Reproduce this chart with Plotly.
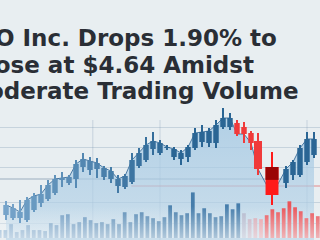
import plotly.graph_objects as go

# ---------------- data ----------------
title_lines = ["O Inc. Drops 1.90% to", "Close at $4.64 Amidst", "Moderate Trading Volume"]

day = list(range(37)) + [38, 40, 41, 42, 43, 44]
open_ = [3.70, 3.64, 3.64, 3.60, 3.80, 3.94, 4.02, 4.14, 4.40, 4.34,
         4.42, 4.66, 4.60, 4.62, 4.46, 4.42, 4.28, 4.26, 4.36, 4.68,
         4.80, 5.02, 4.94, 5.04, 4.86, 4.82, 4.86, 5.04, 5.16, 5.14,
         5.14, 5.46, 5.46, 5.54, 5.46, 5.34, 5.18, 4.66, 4.34, 4.50,
         4.50, 4.76, 4.90]
close = [3.90, 3.84, 3.76, 4.00, 4.08, 4.12, 4.30, 4.42, 4.44, 4.46,
         4.72, 4.82, 4.78, 4.74, 4.64, 4.58, 4.42, 4.48, 4.80, 4.94,
         5.10, 5.18, 5.14, 5.06, 5.02, 4.94, 5.06, 5.34, 5.36, 5.38,
         5.50, 5.64, 5.64, 5.32, 5.32, 5.14, 4.62, 4.10, 4.62, 4.76,
         5.04, 5.22, 5.22]
high = [3.98, 3.92, 4.00, 4.06, 4.14, 4.30, 4.40, 4.50, 4.56, 4.50,
        4.80, 4.94, 4.86, 4.84, 4.68, 4.66, 4.50, 4.52, 4.94, 5.04,
        5.26, 5.36, 5.20, 5.10, 5.06, 5.00, 5.10, 5.44, 5.50, 5.44,
        5.60, 5.84, 5.74, 5.60, 5.56, 5.38, 5.34, 4.96, 4.68, 4.80,
        5.10, 5.36, 5.36]
low = [3.60, 3.60, 3.54, 3.56, 3.76, 3.86, 3.98, 4.10, 4.26, 4.30,
       4.24, 4.56, 4.50, 4.44, 4.40, 4.34, 4.14, 4.22, 4.32, 4.64,
       4.76, 4.90, 4.90, 5.00, 4.80, 4.70, 4.76, 5.00, 5.06, 5.06,
       5.04, 5.42, 5.40, 5.28, 5.14, 5.00, 4.50, 3.90, 4.24, 4.40,
       4.46, 4.70, 4.84]

vol_day = list(range(57))
volume = [0.40, 0.40, 0.70, 0.30, 0.40, 0.65, 0.40, 0.40, 0.35, 0.75,
          0.65, 1.15, 1.20, 0.70, 0.80, 1.05, 0.90, 0.75, 0.80, 0.70,
          0.95, 0.70, 1.30, 0.80, 1.20, 1.30, 1.10, 1.00, 0.85, 1.05,
          1.65, 1.30, 1.15, 1.25, 2.30, 1.25, 1.50, 1.25, 1.05, 1.10,
          1.70, 1.45, 1.75, 1.25, 0.95, 1.00, 0.95, 1.15, 1.45, 1.30,
          1.50, 1.85, 1.55, 1.35, 1.00, 1.25, 1.10]

grid_prices = [5.46, 5.06, 4.66, 3.96, 3.54]
support_price = 4.42
ref_price = 4.28
vline_days = [12.4, 22, 43]

# ---------------- styles ----------------
BG = "#e8eef1"
PRICE_RANGE = [3.2, 8.0]
DAY_RANGE = [-0.857, 44.857]
VDAY_RANGE = [0.053, 56.39]
VOL_RANGE = [-0.1, 12.0]
special_width = {36: 1.15, 38: 1.85}


def lerp_hex(c1, c2, t):
    t = max(0.0, min(1.0, t))
    a = [int(c1[i:i + 2], 16) for i in (1, 3, 5)]
    b = [int(c2[i:i + 2], 16) for i in (1, 3, 5)]
    return "#" + "".join(f"{round(a[k] + (b[k] - a[k]) * t):02x}" for k in range(3))


colors, widths, bases, heights = [], [], [], []
for d, o, c in zip(day, open_, close):
    if c >= o:
        colors.append(lerp_hex("#76a4ca", "#2a6594", d / 24))
    else:
        colors.append("#ff1a1a" if d == 38 else "#f03a3a")
    widths.append(special_width.get(d, 0.78))
    bases.append(min(o, c))
    heights.append(max(abs(c - o), 0.02))

wick_h = [h - l for h, l in zip(high, low)]

vcolors = []
for j in vol_day:
    if j <= 42:
        vcolors.append(lerp_hex("#86acce", "#467dab", j / 34))
    elif j <= 46:
        vcolors.append(lerp_hex("#b3b7cc", "#e99aa2", (j - 43) / 3))
    else:
        vcolors.append("#ea5459")

fig = go.Figure()

# area under closing line
fig.add_trace(go.Scatter(
    x=day, y=close, mode="lines", xaxis="x", yaxis="y",
    line=dict(color="rgba(40,95,145,0.8)", width=1),
    fill="tozeroy",
    fillgradient=dict(type="vertical",
                      colorscale=[[0, "rgba(215,230,240,0.45)"], [1, "rgba(160,198,226,0.75)"]]),
    hoverinfo="skip", showlegend=False))

# volume bars
fig.add_trace(go.Bar(
    x=vol_day, y=volume, xaxis="x2", yaxis="y2", width=0.66,
    marker=dict(color=vcolors, line=dict(width=0)), showlegend=False))
# fade of the volume bars towards the bottom
vmax = max(volume)
fig.add_trace(go.Scatter(
    x=VDAY_RANGE, y=[vmax, vmax], xaxis="x2", yaxis="y2", mode="lines",
    line=dict(width=0), fill="tozeroy",
    fillgradient=dict(type="vertical",
                      colorscale=[[0, "rgba(242,246,248,0.6)"], [0.7, "rgba(242,246,248,0)"],
                                  [1, "rgba(242,246,248,0)"]]),
    hoverinfo="skip", showlegend=False))

# candle wicks
fig.add_trace(go.Bar(
    x=day, y=wick_h, base=low, width=0.15, xaxis="x3", yaxis="y3",
    marker=dict(color=colors, line=dict(width=0)), showlegend=False))
# candle bodies
fig.add_trace(go.Bar(
    x=day, y=heights, base=bases, width=widths, xaxis="x3", yaxis="y3",
    marker=dict(color=colors, line=dict(width=0)), showlegend=False))
# dark upper half of the big drop candle
big = day.index(38)
fig.add_trace(go.Bar(
    x=[day[big]], y=[(open_[big] - close[big]) * 0.46],
    base=[open_[big] - (open_[big] - close[big]) * 0.46],
    width=[special_width[38]], xaxis="x3", yaxis="y3",
    marker=dict(color="#9a0505", line=dict(width=0)), showlegend=False))

axis_off = dict(showticklabels=False, zeroline=False, showline=False, ticks="")
fig.update_layout(
    width=320, height=240, margin=dict(l=0, r=0, t=0, b=0),
    paper_bgcolor=BG, plot_bgcolor="rgba(0,0,0,0)", barmode="overlay",
    xaxis=dict(range=DAY_RANGE, showgrid=False, **axis_off),
    yaxis=dict(range=PRICE_RANGE, tickvals=grid_prices, showgrid=True,
               gridcolor="rgba(120,150,175,0.3)", gridwidth=1, **axis_off),
    xaxis2=dict(range=VDAY_RANGE, overlaying="x", showgrid=False, **axis_off),
    yaxis2=dict(range=VOL_RANGE, overlaying="y", showgrid=False, **axis_off),
    xaxis3=dict(range=DAY_RANGE, overlaying="x", showgrid=False, **axis_off),
    yaxis3=dict(range=PRICE_RANGE, overlaying="y", showgrid=False, **axis_off),
    showlegend=False,
)

# reference lines
fig.add_shape(type="line", xref="paper", x0=0, x1=0.9, yref="y", y0=support_price, y1=support_price,
              line=dict(color="rgba(95,125,150,0.55)", width=1), layer="below")
fig.add_shape(type="line", xref="x", x0=17.9, x1=DAY_RANGE[1], yref="y", y0=ref_price, y1=ref_price,
              line=dict(color="rgba(225,70,70,0.6)", width=1), layer="below")
for vd in vline_days:
    fig.add_shape(type="line", xref="x", x0=vd, x1=vd, yref="paper", y0=0, y1=0.5,
                  line=dict(color="rgba(120,150,175,0.3)", width=1), layer="below")

# title (right-aligned to where each line ends; the left part runs off the canvas)
line_right = [279, 256, 301]
line_bottom = [53, 80, 106]
for txt, rx, by in zip(title_lines, line_right, line_bottom):
    fig.add_annotation(text=txt, xref="paper", yref="paper",
                       x=rx / 320, y=1 - by / 240, xanchor="right", yanchor="bottom",
                       showarrow=False, align="left",
                       font=dict(family="DejaVu Sans", size=23, color="#2a2e35", weight=700))

fig.write_html("out.html")
